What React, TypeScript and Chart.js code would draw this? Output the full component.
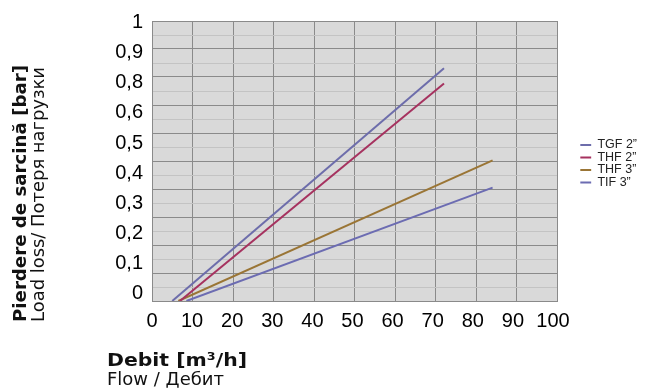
import React, { useEffect, useRef } from 'react';
import { Chart, registerables } from 'chart.js';

Chart.register(...registerables);

// ---- data ----
const seriesNames = ['TGF 2”', 'THF 2”', 'THF 3”', 'TIF 3”'];
const seriesColors = ['#6d6dab', '#a6325f', '#9a7535', '#6c6cb2'];

const flowTGF2 = [5.0, 72.1];
const lossTGF2 = [0, 0.831];
const flowTHF2 = [6.9, 72.1];
const lossTHF2 = [0, 0.777];
const flowTHF3 = [6.5, 84.1];
const lossTHF3 = [0, 0.502];
const flowTIF3 = [8.5, 84.1];
const lossTIF3 = [0, 0.405];

const xTickValues = [0, 10, 20, 30, 40, 50, 60, 70, 80, 90, 100];
const xTickLabels = ['0', '10', '20', '30', '40', '50', '60', '70', '80', '90', '100'];
const yTickValues = [0, 1, 2, 3, 4, 5, 6, 7, 8, 9];
const yTickLabels = ['0', '0,1', '0,2', '0,3', '0,4', '0,5', '0,6', '0,8', '0,9', '1'];

const yTitleBold = 'Pierdere de sarcină [bar]';
const yTitleRegular = 'Load loss/ Потеря нагрузки';
const xTitleBold = 'Debit [m³/h]';
const xTitleRegular = 'Flow / Дебит';

const toPoints = (xs: number[], ys: number[]) => xs.map((x, i) => ({ x, y: ys[i] }));

const W = 647;
const H = 392;
const PLOT_TOP = 19;
const PLOT_BOTTOM = 301;
const PLOT_RIGHT = 557;
const PAD_RIGHT = 0;

const bgPlugin = {
  id: 'plotBg',
  beforeDraw(chart: any) {
    const { ctx, chartArea: a } = chart;
    ctx.save();
    ctx.fillStyle = '#d9d9d9';
    ctx.fillRect(a.left, a.top, a.right - a.left, a.bottom - a.top);
    ctx.restore();
  },
};

function drawStretched(ctx: CanvasRenderingContext2D, text: string, font: string, target: number) {
  ctx.font = font;
  const w = ctx.measureText(text).width;
  ctx.save();
  if (target && w > 0) ctx.scale(target / w, 1);
  ctx.fillText(text, 0, 0);
  ctx.restore();
}

const titlesPlugin = {
  id: 'titles',
  afterDraw(chart: any) {
    const ctx: CanvasRenderingContext2D = chart.ctx;
    ctx.save();
    ctx.fillStyle = '#111';
    ctx.textAlign = 'left';
    ctx.textBaseline = 'alphabetic';
    ctx.save();
    ctx.translate(26, 322);
    ctx.rotate(-Math.PI / 2);
    drawStretched(ctx, yTitleBold, 'bold 18px "DejaVu Sans"', 257);
    ctx.restore();
    ctx.save();
    ctx.translate(44, 322);
    ctx.rotate(-Math.PI / 2);
    drawStretched(ctx, yTitleRegular, '18px "DejaVu Sans"', 255);
    ctx.restore();
    ctx.save();
    ctx.translate(107, 366);
    drawStretched(ctx, xTitleBold, 'bold 18px "DejaVu Sans"', 140);
    ctx.restore();
    ctx.save();
    ctx.translate(107, 385);
    drawStretched(ctx, xTitleRegular, '18px "DejaVu Sans"', 117);
    ctx.restore();
    ctx.restore();
  },
};

export default function App() {
  const ref = useRef<HTMLCanvasElement | null>(null);

  useEffect(() => {
    if (!ref.current) return;
    const flows = [flowTGF2, flowTHF2, flowTHF3, flowTIF3];
    const losses = [lossTGF2, lossTHF2, lossTHF3, lossTIF3];
    const tickFont = { family: '"Liberation Sans", Arial, sans-serif', size: 20 };

    const chart = new Chart(ref.current, {
      type: 'scatter',
      data: {
        datasets: seriesNames.map((name, i) => ({
          label: name,
          data: toPoints(flows[i], losses[i]),
          showLine: true,
          borderColor: seriesColors[i],
          backgroundColor: seriesColors[i],
          borderWidth: 2,
          pointRadius: 0,
          xAxisID: 'x',
          yAxisID: 'y',
        })),
      },
      options: {
        animation: false,
        responsive: false,
        devicePixelRatio: 1,
        layout: { padding: { left: 0, top: PLOT_TOP, right: PAD_RIGHT, bottom: 0 } },
        plugins: {
          tooltip: { enabled: false },
          legend: {
            position: 'right',
            align: 'start',
            title: {
              display: true,
              text: ' ',
              font: { size: 10, lineHeight: 1 },
              padding: { top: 109.75, bottom: 0 },
            },
            labels: {
              usePointStyle: true,
              pointStyle: 'line',
              pointStyleWidth: 11,
              boxHeight: 12.5,
              padding: 0,
              color: '#222',
              font: { family: '"Liberation Sans", Arial, sans-serif', size: 12.5 },
            },
          },
        },
        scales: {
          x: {
            type: 'linear',
            position: 'bottom',
            min: 0,
            max: 100,
            ticks: { display: false, stepSize: 10 },
            grid: { color: '#8a8a8a', lineWidth: 1, drawTicks: false },
            border: { color: '#8a8a8a', width: 1 },
            afterFit: (s: any) => { s.height = 0; },
          },
          xl: {
            type: 'linear',
            position: 'bottom',
            min: 0,
            max: 101,
            afterBuildTicks: (s: any) => { s.ticks = xTickValues.map((v) => ({ value: v })); },
            ticks: {
              color: '#000',
              font: tickFont,
              padding: 8,
              maxRotation: 0,
              autoSkip: false,
              callback: (_v: any, i: number) => xTickLabels[i],
            },
            grid: { display: false, drawTicks: false },
            border: { display: false },
            afterFit: (s: any) => { s.height = H - PLOT_BOTTOM; },
          },
          y: {
            type: 'linear',
            position: 'left',
            min: 0,
            max: 1,
            ticks: { display: false, stepSize: 0.05 },
            grid: {
              drawTicks: false,
              color: (c: any) => (c.index % 2 === 0 ? '#8a8a8a' : '#c3c3c3'),
              lineWidth: 1,
            },
            border: { color: '#8a8a8a', width: 1 },
            afterFit: (s: any) => { s.width = 0; },
          },
          yl: {
            type: 'linear',
            position: 'left',
            min: -0.254,
            max: 9.056,
            afterBuildTicks: (s: any) => { s.ticks = yTickValues.map((v) => ({ value: v })); },
            ticks: {
              color: '#000',
              font: tickFont,
              padding: 9,
              autoSkip: false,
              callback: (_v: any, i: number) => yTickLabels[i],
            },
            grid: { display: false, drawTicks: false },
            border: { display: false },
            afterFit: (s: any) => { s.width = 152; },
          },
          pad: {
            type: 'linear',
            position: 'right',
            ticks: { display: false },
            grid: { display: false, drawTicks: false },
            border: { display: false },
            afterFit: (s: any) => {
              const lw = s.chart.legend ? s.chart.legend.width : 0;
              s.width = Math.max(0, W - PAD_RIGHT - PLOT_RIGHT - lw);
            },
          },
        },
      } as any,
      plugins: [bgPlugin, titlesPlugin],
    });
    return () => chart.destroy();
  }, []);

  return (
    <div style={{ position: 'absolute', left: 0, top: 0, width: W, height: H, background: '#fff' }}>
      <canvas ref={ref} width={W} height={H} style={{ display: 'block', width: W, height: H }} />
    </div>
  );
}
